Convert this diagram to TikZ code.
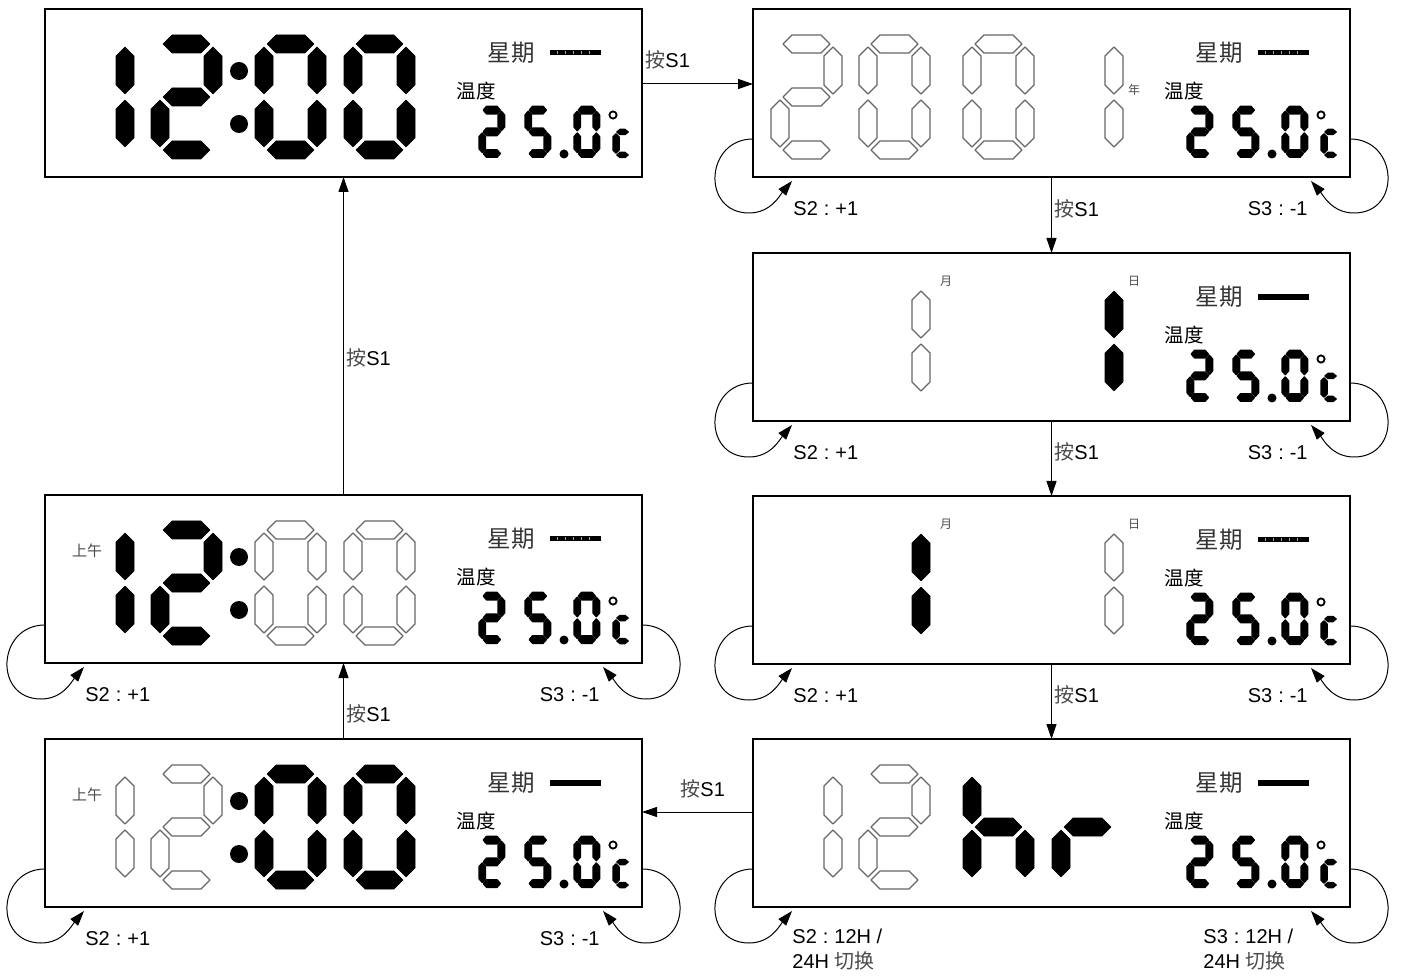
\documentclass[tikz,border=0pt]{standalone}
\usepackage{fontspec}
\setmainfont{Liberation Sans}
\newfontfamily\cjk{Noto Sans CJK SC}
\usetikzlibrary{arrows.meta,calc}
\tikzset{
  on/.style={fill=black,draw=black,line width=0.3pt,line join=round},
  son/.style={fill=black,draw=black,line width=0.75pt,line join=round},
  off/.style={fill=white,draw=black!60,line width=0.65pt,line join=round},
  panel/.style={draw=black,line width=1.3pt,fill=white,minimum width=298.5pt,minimum height=84pt,anchor=north west,inner sep=0pt,outer sep=0pt},
  arr/.style={line width=0.5pt,-{Triangle[length=7.5pt,width=5pt]}},
  lab/.style={font=\fontsize{10}{12.5}\selectfont,inner sep=0pt},
  small/.style={xscale=0.36,yscale=0.41},
}
\newcommand\lcdseg[2]{%
 \if#1a\path[#2] (12,10)--(21,1)--(50,1)--(59,10)--(50,19)--(21,19)--cycle;\fi
 \if#1g\path[#2] (12,63)--(21,54)--(50,54)--(59,63)--(50,72)--(21,72)--cycle;\fi
 \if#1d\path[#2] (12,116)--(21,107)--(50,107)--(59,116)--(50,125)--(21,125)--cycle;\fi
 \if#1f\path[#2] (9,13)--(18,22)--(18,51)--(9,60)--(0,51)--(0,22)--cycle;\fi
 \if#1b\path[#2] (62,13)--(71,22)--(71,51)--(62,60)--(53,51)--(53,22)--cycle;\fi
 \if#1e\path[#2] (9,66)--(18,75)--(18,104)--(9,113)--(0,104)--(0,75)--cycle;\fi
 \if#1c\path[#2] (62,66)--(71,75)--(71,104)--(62,113)--(53,104)--(53,75)--cycle;\fi
}
\newcommand\lcddig[4][]{%
 \begin{scope}[shift={(#2)},#1]
 \foreach \s in {#3}{\lcdseg{\s}{#4}}
 \end{scope}}
\newcommand\lcdcolon{\fill (194,62) circle (9); \fill (194,115) circle (9);}
\newcommand\barsolid{\fill (505,41) rectangle (556,47);}
\newcommand\bardashed{\fill (505,41.5) rectangle (556,46.5);
  \foreach \xx in {512,520,...,550}{\draw[black!35,line width=0.25pt] (\xx,42.5) -- (\xx,45.5);}}
\newcommand\lcdcommon{%
  \node[font={\cjk\fontsize{11.75}{12}\selectfont},text=black!80,inner sep=0pt] at (466,44) {星期};
  \node[font={\cjk\fontsize{9.75}{10}\selectfont},inner sep=0pt] at (431,82) {温度};
  \lcddig[small]{434,97}{a,b,g,e,d}{son}
  \lcddig[small]{480,97}{a,f,g,c,d}{son}
  \fill (519,145) circle (4.5);
  \lcddig[small]{529,97}{a,b,c,d,e,f}{son}
  \draw[line width=0.9pt] (568,106) circle (3.6);
  \path[son] (572,123)--(575,120.5)--(580,120.5)--(583,123)--(580,125.5)--(575,125.5)--cycle;
  \path[son] (571,125)--(574,128)--(574,141)--(571,144)--(568,141)--(568,128)--cycle;
  \path[son] (572,146)--(575,143.5)--(580,143.5)--(583,146)--(580,148.5)--(575,148.5)--cycle;
}
\newcommand\smalltxt[3]{\node[font={\cjk\fontsize{#3}{#3}\selectfont},text=black!70,inner sep=0pt] at (#1) {#2};}
\newcommand\lcdloops[3]{%
 \draw[arr] ($(#1.south west)+(0,-38)$) .. controls +(-48,0) and +(-48,0) .. ($(#1.south west)+(-4,36)$) .. controls +(22,0) and +(-12,14) .. ($(#1.south west)+(39,4)$);
 \draw[arr] ($(#1.south east)+(0,-38)$) .. controls +(48,0) and +(48,0) .. ($(#1.south east)+(4,36)$) .. controls +(-22,0) and +(12,14) .. ($(#1.south east)+(-39,4)$);
 \node[lab,anchor=west] at ($(#1.south west)+(40,32)$) {#2};
 \node[lab,anchor=east] at ($(#1.south east)+(-42,32)$) {#3};
}
\newcommand\an{{\cjk\color{black!70}按}S1}
\newcommand\fc{\hspace{0.3em}:\hspace{0.3em}}
\begin{document}
\begin{tikzpicture}[x=0.5pt,y=-0.5pt]
\useasboundingbox[fill=white] (0,0) rectangle (1401,977);
% panels
\node[panel] (p1) at (45,9) {};
\node[panel] (p2) at (753,9) {};
\node[panel] (p3) at (753,253) {};
\node[panel] (p4) at (753,496) {};
\node[panel] (p5) at (753,739) {};
\node[panel] (p6) at (45,739) {};
\node[panel] (p7) at (45,495) {};
% P1
\begin{scope}[shift={(45,9)}]
 \lcddig{18,25}{b,c}{on}
 \lcddig{106,25}{a,b,g,e,d}{on}
 \lcdcolon
 \lcddig{210,25}{a,b,c,d,e,f}{on}
 \lcddig{299,25}{a,b,c,d,e,f}{on}
 \lcdcommon \bardashed
\end{scope}
% P2
\begin{scope}[shift={(753,9)}]
 \lcddig{18,25}{a,b,g,e,d}{off}
 \lcddig{106,25}{a,b,c,d,e,f}{off}
 \lcddig{210,25}{a,b,c,d,e,f}{off}
 \lcddig{299,25}{b,c}{off}
 \smalltxt{381,81}{年}{6}
 \lcdcommon \bardashed
\end{scope}
% P3
\begin{scope}[shift={(753,253)}]
 \lcddig{106,25}{b,c}{off}
 \lcddig{299,25}{b,c}{on}
 \smalltxt{193,28}{月}{6}
 \smalltxt{381,28}{日}{6}
 \lcdcommon \barsolid
\end{scope}
% P4
\begin{scope}[shift={(753,496)}]
 \lcddig{106,25}{b,c}{on}
 \lcddig{299,25}{b,c}{off}
 \smalltxt{193,28}{月}{6}
 \smalltxt{381,28}{日}{6}
 \lcdcommon \bardashed
\end{scope}
% P5
\begin{scope}[shift={(753,739)}]
 \lcddig{18,25}{b,c}{off}
 \lcddig{106,25}{a,b,g,e,d}{off}
 \lcddig{210,25}{f,e,g,c}{on}
 \lcddig{299,25}{e,g}{on}
 \lcdcommon \barsolid
\end{scope}
% P6
\begin{scope}[shift={(45,739)}]
 \smalltxt{42,56}{上午}{7.5}
 \lcddig{18,25}{b,c}{off}
 \lcddig{106,25}{a,b,g,e,d}{off}
 \lcdcolon
 \lcddig{210,25}{a,b,c,d,e,f}{on}
 \lcddig{299,25}{a,b,c,d,e,f}{on}
 \lcdcommon \barsolid
\end{scope}
% P7
\begin{scope}[shift={(45,495)}]
 \smalltxt{42,56}{上午}{7.5}
 \lcddig{18,25}{b,c}{on}
 \lcddig{106,25}{a,b,g,e,d}{on}
 \lcdcolon
 \lcddig{210,25}{a,b,c,d,e,f}{off}
 \lcddig{299,25}{a,b,c,d,e,f}{off}
 \lcdcommon \bardashed
\end{scope}
% S1 transitions
\draw[arr] ($(p1.east)+(0,-9)$) -- ($(p2.west)+(0,-9)$);
\node[lab,anchor=west] at (645,60) {\an};
\draw[arr] (p2.south) -- (p3.north);
\node[lab,anchor=west] at (1054,209) {\an};
\draw[arr] (p3.south) -- (p4.north);
\node[lab,anchor=west] at (1054,452) {\an};
\draw[arr] (p4.south) -- (p5.north);
\node[lab,anchor=west] at (1054,695) {\an};
\draw[arr] ($(p5.west)+(0,-11)$) -- ($(p6.east)+(0,-11)$);
\node[lab,anchor=west] at (680,789) {\an};
\draw[arr] (p6.north) -- (p7.south);
\node[lab,anchor=west] at (346,714) {\an};
\draw[arr] (p7.north) -- (p1.south);
\node[lab,anchor=west] at (346,358) {\an};
% self loops
\lcdloops{p2}{S2\fc+1}{S3\fc-1}
\lcdloops{p3}{S2\fc+1}{S3\fc-1}
\lcdloops{p4}{S2\fc+1}{S3\fc-1}
\lcdloops{p6}{S2\fc+1}{S3\fc-1}
\lcdloops{p7}{S2\fc+1}{S3\fc-1}
\lcdloops{p5}{}{}
\node[lab,anchor=north west,align=left] at (792,929) {S2\fc12H /\\24H {\cjk\color{black!70}切换}};
\node[lab,anchor=north west,align=left] at (1203,929) {S3\fc12H /\\24H {\cjk\color{black!70}切换}};
\end{tikzpicture}
\end{document}
